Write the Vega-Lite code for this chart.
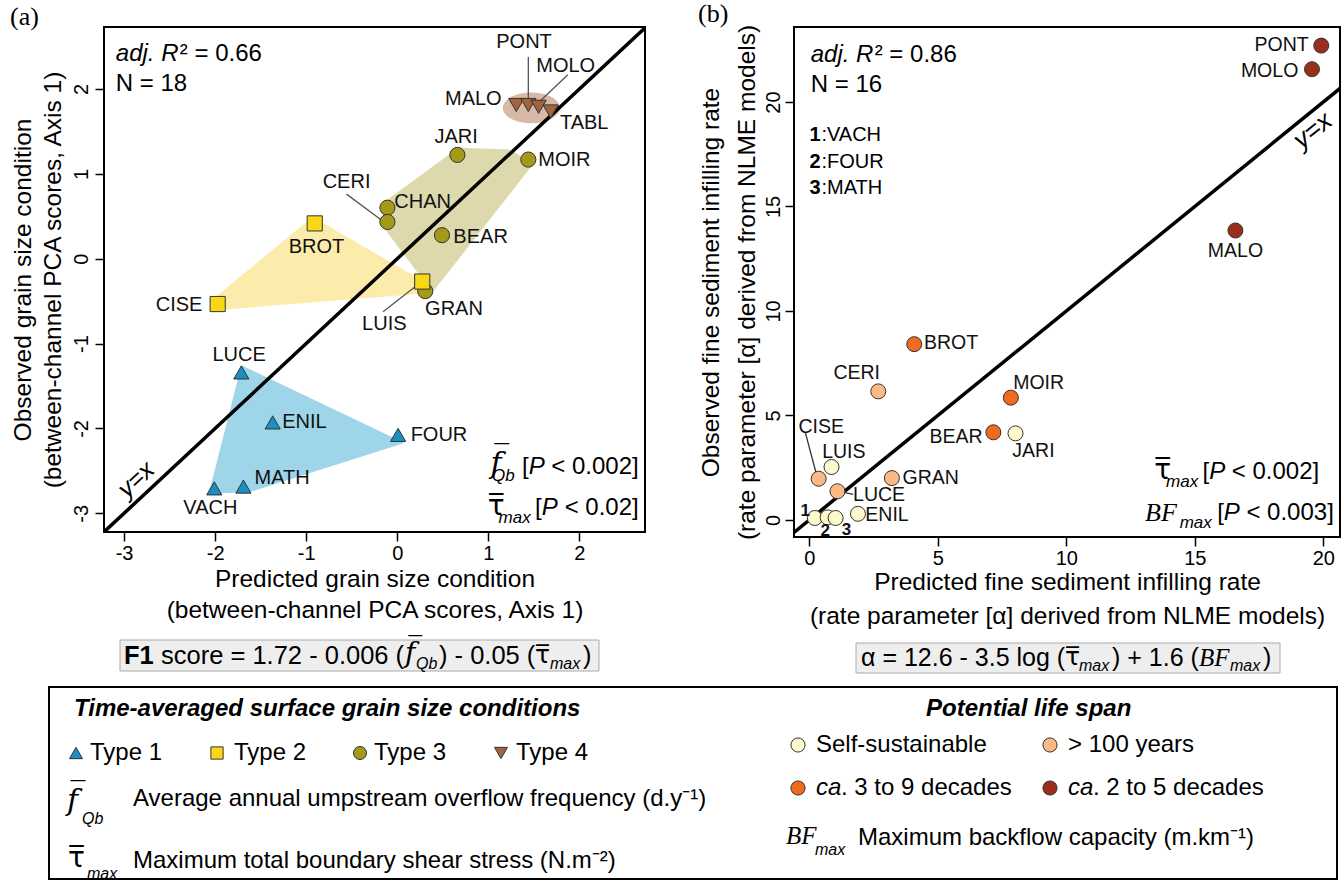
{
"$schema":"https://vega.github.io/schema/vega-lite/v6.json",
"background":"white",
"padding":{"left":9,"top":0,"right":0,"bottom":0},
"config":{
 "view":{"stroke":"black","strokeWidth":2},
 "axis":{"labelFont":"Liberation Sans","titleFont":"Liberation Sans","labelFontSize":20,"titleFontSize":24.5,"titleFontWeight":"normal","labelColor":"black","titleColor":"black","tickColor":"black","tickWidth":1.5,"tickSize":9,"domain":false,"grid":false,"labelFlush":false,"labelOverlap":false,"labelExpr":"replace(datum.label, '\u2212', '-')"},
 "text":{"font":"Liberation Sans","color":"black"}
},
"datasets":{
 "ptsA":[
  {"site":"LUCE","type":"Type 1","x":-1.712,"y":-1.34},
  {"site":"ENIL","type":"Type 1","x":-1.368,"y":-1.929},
  {"site":"FOUR","type":"Type 1","x":0.009,"y":-2.076},
  {"site":"VACH","type":"Type 1","x":-2.009,"y":-2.706},
  {"site":"MATH","type":"Type 1","x":-1.689,"y":-2.685},
  {"site":"BROT","type":"Type 2","x":-0.906,"y":0.416},
  {"site":"CISE","type":"Type 2","x":-1.972,"y":-0.534},
  {"site":"JARI","type":"Type 3","x":0.66,"y":1.223},
  {"site":"MOIR","type":"Type 3","x":1.439,"y":1.168},
  {"site":"CHAN","type":"Type 3","x":-0.108,"y":0.601},
  {"site":"CERI","type":"Type 3","x":-0.108,"y":0.433},
  {"site":"BEAR","type":"Type 3","x":0.491,"y":0.277},
  {"site":"GRAN","type":"Type 3","x":0.307,"y":-0.382},
  {"site":"LUIS","type":"Type 2","x":0.274,"y":-0.269},
  {"site":"MALO","type":"Type 4","x":1.307,"y":1.811},
  {"site":"PONT","type":"Type 4","x":1.439,"y":1.811},
  {"site":"MOLO","type":"Type 4","x":1.552,"y":1.79},
  {"site":"TABL","type":"Type 4","x":1.684,"y":1.735}
 ],
 "labA":[
  {"site":"LUCE","x":-1.736,"y":-1.13},
  {"site":"ENIL","x":-1.019,"y":-1.929},
  {"site":"FOUR","x":0.458,"y":-2.076},
  {"site":"VACH","x":-2.052,"y":-2.937},
  {"site":"MATH","x":-1.264,"y":-2.58},
  {"site":"BROT","x":-0.887,"y":0.143},
  {"site":"CISE","x":-2.396,"y":-0.542},
  {"site":"LUIS","x":-0.142,"y":-0.773},
  {"site":"JARI","x":0.646,"y":1.433},
  {"site":"MOIR","x":1.835,"y":1.16},
  {"site":"CHAN","x":0.278,"y":0.668},
  {"site":"CERI","x":-0.557,"y":0.908},
  {"site":"BEAR","x":0.915,"y":0.256},
  {"site":"GRAN","x":0.623,"y":-0.592},
  {"site":"MALO","x":0.835,"y":1.887},
  {"site":"PONT","x":1.392,"y":2.559},
  {"site":"MOLO","x":1.849,"y":2.273},
  {"site":"TABL","x":2.052,"y":1.601}
 ],
 "leadA":[
  {"site":"PONT","x":1.439,"y":2.378,"x2":1.439,"y2":1.861},
  {"site":"MOLO","x":1.873,"y":2.168,"x2":1.552,"y2":1.84},
  {"site":"CERI","x":-0.557,"y":0.761,"x2":-0.179,"y2":0.458},
  {"site":"LUIS","x":-0.156,"y":-0.626,"x2":0.245,"y2":-0.29}
 ],
 "hullA":[
  {"type":"Type 1","i":1,"x":-1.712,"y":-1.256},
  {"type":"Type 1","i":2,"x":0.08,"y":-2.17},
  {"type":"Type 1","i":3,"x":-1.62,"y":-2.75},
  {"type":"Type 1","i":4,"x":-2.07,"y":-2.77},
  {"type":"Type 2","i":1,"x":-0.93,"y":0.49},
  {"type":"Type 2","i":2,"x":0.33,"y":-0.29},
  {"type":"Type 2","i":3,"x":0.3,"y":-0.41},
  {"type":"Type 2","i":4,"x":-2.04,"y":-0.61},
  {"type":"Type 2","i":5,"x":-2.04,"y":-0.49},
  {"type":"Type 3","i":1,"x":-0.156,"y":0.655},
  {"type":"Type 3","i":2,"x":0.67,"y":1.307},
  {"type":"Type 3","i":3,"x":1.236,"y":1.286},
  {"type":"Type 3","i":4,"x":1.495,"y":1.118},
  {"type":"Type 3","i":5,"x":0.387,"y":-0.395},
  {"type":"Type 3","i":6,"x":-0.132,"y":0.34}
 ],
 "ellA":[{"x":1.472,"y":1.777}],
 "yxA":[{"x":-3.22,"y":-3.22},{"x":2.73,"y":2.73}],
 "ptsB":[
  {"site":"PONT","span":"ca. 2 to 5 decades","x":19.92,"y":22.7},
  {"site":"MOLO","span":"ca. 2 to 5 decades","x":19.56,"y":21.57},
  {"site":"MALO","span":"ca. 2 to 5 decades","x":16.58,"y":13.85},
  {"site":"BROT","span":"ca. 3 to 9 decades","x":4.08,"y":8.41},
  {"site":"MOIR","span":"ca. 3 to 9 decades","x":7.84,"y":5.85},
  {"site":"BEAR","span":"ca. 3 to 9 decades","x":7.16,"y":4.19},
  {"site":"CERI","span":"> 100 years","x":2.68,"y":6.15},
  {"site":"CISE","span":"> 100 years","x":0.36,"y":1.97},
  {"site":"GRAN","span":"> 100 years","x":3.21,"y":2.0},
  {"site":"LUCE","span":"> 100 years","x":1.09,"y":1.37},
  {"site":"JARI","span":"Self-sustainable","x":8.02,"y":4.14},
  {"site":"LUIS","span":"Self-sustainable","x":0.86,"y":2.53},
  {"site":"ENIL","span":"Self-sustainable","x":1.89,"y":0.29},
  {"site":"VACH","span":"Self-sustainable","x":0.21,"y":0.09},
  {"site":"FOUR","span":"Self-sustainable","x":0.71,"y":0.12},
  {"site":"MATH","span":"Self-sustainable","x":1.02,"y":0.09}
 ],
 "labB":[
  {"lab":"PONT","x":18.38,"y":22.75},
  {"lab":"MOLO","x":17.91,"y":21.48},
  {"lab":"MALO","x":16.58,"y":12.85},
  {"lab":"BROT","x":5.51,"y":8.46},
  {"lab":"MOIR","x":8.92,"y":6.53},
  {"lab":"BEAR","x":5.71,"y":3.97},
  {"lab":"CERI","x":1.84,"y":7.04},
  {"lab":"CISE","x":0.46,"y":4.44},
  {"lab":"GRAN","x":4.72,"y":2.0},
  {"lab":"LUCE","x":2.71,"y":1.17},
  {"lab":"JARI","x":8.72,"y":3.28},
  {"lab":"LUIS","x":1.34,"y":3.27},
  {"lab":"ENIL","x":3.02,"y":0.21},
  {"lab":"1","x":-0.16,"y":0.42},
  {"lab":"2","x":0.62,"y":-0.55},
  {"lab":"3","x":1.44,"y":-0.48}
 ],
 "leadB":[
  {"site":"CISE","x":-0.16,"y":4.19,"x2":0.3,"y2":2.05},
  {"site":"LUCE","x":1.7,"y":1.22,"x2":1.15,"y2":1.36}
 ],
 "yxB":[{"x":-0.6,"y":-0.6},{"x":20.65,"y":20.65}]
},
"spacing":4,
"vconcat":[
 {"hconcat":[
  {
   "width":541,"height":505,
   "title":{"text":"(a)","anchor":"start","frame":"bounds","font":"Liberation Serif","fontSize":26,"fontWeight":"normal","offset":-3,"color":"black"},
   "layer":[
    {"data":{"name":"hullA"},"transform":[{"filter":"datum.type == 'Type 2'"}],"mark":{"type":"line","interpolate":"linear-closed","fill":"#fbe99c","fillOpacity":0.85,"strokeWidth":0},
     "encoding":{
      "x":{"field":"x","type":"quantitative","scale":{"domain":[-3.22,2.72],"nice":false,"zero":false},"axis":{"values":[-3,-2,-1,0,1,2],"format":"d","title":["Predicted grain size condition","(between-channel PCA scores, Axis 1)"],"titleLineHeight":31,"titlePadding":4,"labelPadding":2}},
      "y":{"field":"y","type":"quantitative","scale":{"domain":[-3.22,2.73],"nice":false,"zero":false},"axis":{"values":[-3,-2,-1,0,1,2],"format":"d","labelAngle":-90,"labelAlign":"center","labelBaseline":"bottom","labelPadding":4,"title":["Observed grain size condition","(between-channel PCA scores, Axis 1)"],"titleLineHeight":30,"titlePadding":6}},
      "order":{"field":"i","type":"quantitative"}}},
    {"data":{"name":"hullA"},"transform":[{"filter":"datum.type == 'Type 3'"}],"mark":{"type":"line","interpolate":"linear-closed","fill":"#d8d29e","fillOpacity":0.85,"strokeWidth":0},"encoding":{"x":{"field":"x","type":"quantitative"},"y":{"field":"y","type":"quantitative"},"order":{"field":"i","type":"quantitative"}}},
    {"data":{"name":"hullA"},"transform":[{"filter":"datum.type == 'Type 1'"}],"mark":{"type":"line","interpolate":"linear-closed","fill":"#9fd5e8","fillOpacity":1,"strokeWidth":0},"encoding":{"x":{"field":"x","type":"quantitative"},"y":{"field":"y","type":"quantitative"},"order":{"field":"i","type":"quantitative"}}},
    {"data":{"name":"ellA"},"mark":{"type":"point","shape":"M-1,0A1,0.54,0,1,0,1,0A1,0.54,0,1,0,-1,0Z","filled":true,"fill":"#d8b8a6","opacity":1,"strokeWidth":0,"size":3250},"encoding":{"x":{"field":"x","type":"quantitative"},"y":{"field":"y","type":"quantitative"}}},
    {"data":{"name":"yxA"},"mark":{"type":"line","color":"black","strokeWidth":3.5,"clip":true},"encoding":{"x":{"field":"x","type":"quantitative"},"y":{"field":"y","type":"quantitative"}}},
    {"data":{"name":"leadA"},"mark":{"type":"rule","color":"#555555","strokeWidth":1.3},"encoding":{"x":{"field":"x","type":"quantitative"},"y":{"field":"y","type":"quantitative"},"x2":{"field":"x2"},"y2":{"field":"y2"}}},
    {"data":{"name":"ptsA"},"mark":{"type":"point","filled":true,"size":230,"stroke":"#333333","strokeWidth":1,"opacity":1},
     "encoding":{
      "x":{"field":"x","type":"quantitative"},"y":{"field":"y","type":"quantitative"},
      "shape":{"field":"type","type":"nominal","scale":{"domain":["Type 1","Type 2","Type 3","Type 4"],"range":["triangle-up","square","circle","triangle-down"]},"legend":null},
      "color":{"field":"type","type":"nominal","scale":{"domain":["Type 1","Type 2","Type 3","Type 4"],"range":["#1b8fc4","#f9d616","#a39a1a","#a3643d"]},"legend":null}}},
    {"data":{"name":"labA"},"mark":{"type":"text","fontSize":20,"align":"center","baseline":"middle","color":"#111111"},"encoding":{"x":{"field":"x","type":"quantitative"},"y":{"field":"y","type":"quantitative"},"text":{"field":"site"}}},
    {"data":{"values":[{}]},"mark":{"type":"text","fontSize":24,"fontStyle":"italic","align":"left","baseline":"middle"},"encoding":{"x":{"datum":-3.09,"type":"quantitative"},"y":{"datum":2.408,"type":"quantitative"},"text":{"value":"adj. R"}}},
    {"data":{"values":[{}]},"mark":{"type":"text","fontSize":24,"align":"left","baseline":"middle","dx":64},"encoding":{"x":{"datum":-3.09,"type":"quantitative"},"y":{"datum":2.408,"type":"quantitative"},"text":{"value":"\u00b2 = 0.66"}}},
    {"data":{"values":[{}]},"mark":{"type":"text","fontSize":24,"align":"left","baseline":"middle"},"encoding":{"x":{"datum":-3.09,"type":"quantitative"},"y":{"datum":2.055,"type":"quantitative"},"text":{"value":"N = 18"}}},
    {"data":{"values":[{}]},"mark":{"type":"text","fontSize":25,"fontStyle":"italic","align":"center","baseline":"middle","angle":-43},"encoding":{"x":{"datum":-2.868,"type":"quantitative"},"y":{"datum":-2.601,"type":"quantitative"},"text":{"value":"y=x"}}},
    {"data":{"values":[{}]},"mark":{"type":"text","fontSize":24,"align":"right","baseline":"middle"},"encoding":{"x":{"datum":2.651,"type":"quantitative"},"y":{"datum":-2.454,"type":"quantitative"},"text":{"value":"< 0.002]"}}},
    {"data":{"values":[{}]},"mark":{"type":"text","fontSize":24,"fontStyle":"italic","align":"right","baseline":"middle","dx":-94},"encoding":{"x":{"datum":2.651,"type":"quantitative"},"y":{"datum":-2.454,"type":"quantitative"},"text":{"value":"P"}}},
    {"data":{"values":[{}]},"mark":{"type":"text","fontSize":24,"align":"right","baseline":"middle","dx":-110},"encoding":{"x":{"datum":2.651,"type":"quantitative"},"y":{"datum":-2.454,"type":"quantitative"},"text":{"value":"["}}},
    {"data":{"values":[{}]},"mark":{"type":"text","fontSize":17,"fontStyle":"italic","align":"right","baseline":"middle","dx":-124,"dy":9},"encoding":{"x":{"datum":2.651,"type":"quantitative"},"y":{"datum":-2.454,"type":"quantitative"},"text":{"value":"Qb"}}},
    {"data":{"values":[{}]},"mark":{"type":"text","font":"DejaVu Serif","fontSize":30,"fontStyle":"italic","align":"right","baseline":"middle","dx":-137,"dy":-3},"encoding":{"x":{"datum":2.651,"type":"quantitative"},"y":{"datum":-2.454,"type":"quantitative"},"text":{"value":"f\u0305"}}},
    {"data":{"values":[{}]},"mark":{"type":"text","fontSize":24,"align":"right","baseline":"middle"},"encoding":{"x":{"datum":2.651,"type":"quantitative"},"y":{"datum":-2.937,"type":"quantitative"},"text":{"value":"< 0.02]"}}},
    {"data":{"values":[{}]},"mark":{"type":"text","fontSize":24,"fontStyle":"italic","align":"right","baseline":"middle","dx":-81},"encoding":{"x":{"datum":2.651,"type":"quantitative"},"y":{"datum":-2.937,"type":"quantitative"},"text":{"value":"P"}}},
    {"data":{"values":[{}]},"mark":{"type":"text","fontSize":24,"align":"right","baseline":"middle","dx":-97},"encoding":{"x":{"datum":2.651,"type":"quantitative"},"y":{"datum":-2.937,"type":"quantitative"},"text":{"value":"["}}},
    {"data":{"values":[{}]},"mark":{"type":"text","fontSize":17,"fontStyle":"italic","align":"right","baseline":"middle","dx":-108,"dy":10},"encoding":{"x":{"datum":2.651,"type":"quantitative"},"y":{"datum":-2.937,"type":"quantitative"},"text":{"value":"max"}}},
    {"data":{"values":[{}]},"mark":{"type":"text","font":"DejaVu Sans","fontSize":28,"align":"right","baseline":"middle","dx":-134,"dy":-1},"encoding":{"x":{"datum":2.651,"type":"quantitative"},"y":{"datum":-2.937,"type":"quantitative"},"text":{"value":"\u03c4\u0305"}}}
   ]
  },
  {
   "width":546,"height":510,
   "title":{"text":"(b)","anchor":"start","frame":"bounds","font":"Liberation Serif","fontSize":26,"fontWeight":"normal","offset":-3,"color":"black"},
   "layer":[
    {"data":{"name":"yxB"},"mark":{"type":"line","color":"black","strokeWidth":3.5,"clip":true},
     "encoding":{
      "x":{"field":"x","type":"quantitative","scale":{"domain":[-0.6,20.65],"nice":false,"zero":false},"axis":{"values":[0,5,10,15,20],"format":"d","title":["Predicted fine sediment infilling rate","(rate parameter [\u03b1] derived from NLME models)"],"titleLineHeight":34,"titlePadding":2,"labelPadding":2}},
      "y":{"field":"y","type":"quantitative","scale":{"domain":[-0.82,23.59],"nice":false,"zero":false},"axis":{"values":[0,5,10,15,20],"format":"d","labelAngle":-90,"labelAlign":"center","labelBaseline":"bottom","labelPadding":2,"title":["Observed fine sediment infilling rate","(rate parameter [\u03b1] derived from NLME models)"],"titleLineHeight":36,"titlePadding":4}}}},
    {"data":{"name":"leadB"},"mark":{"type":"rule","color":"#333333","strokeWidth":1.3},"encoding":{"x":{"field":"x","type":"quantitative"},"y":{"field":"y","type":"quantitative"},"x2":{"field":"x2"},"y2":{"field":"y2"}}},
    {"data":{"name":"ptsB"},"mark":{"type":"point","filled":true,"size":225,"stroke":"#333333","strokeWidth":1,"opacity":1},
     "encoding":{"x":{"field":"x","type":"quantitative"},"y":{"field":"y","type":"quantitative"},"color":{"field":"span","type":"nominal","scale":{"domain":["Self-sustainable","> 100 years","ca. 3 to 9 decades","ca. 2 to 5 decades"],"range":["#fcf9cc","#fbba85","#ee6b20","#9a2e1c"]},"legend":null}}},
    {"data":{"name":"labB"},"transform":[{"filter":"length(datum.lab) > 1"}],"mark":{"type":"text","fontSize":19.5,"align":"center","baseline":"middle","color":"#111111"},"encoding":{"x":{"field":"x","type":"quantitative"},"y":{"field":"y","type":"quantitative"},"text":{"field":"lab"}}},
    {"data":{"name":"labB"},"transform":[{"filter":"length(datum.lab) == 1"}],"mark":{"type":"text","fontSize":17,"fontWeight":"bold","align":"center","baseline":"middle","color":"#111111"},"encoding":{"x":{"field":"x","type":"quantitative"},"y":{"field":"y","type":"quantitative"},"text":{"field":"lab"}}},
    {"data":{"values":[{}]},"mark":{"type":"text","fontSize":24,"fontStyle":"italic","align":"left","baseline":"middle"},"encoding":{"x":{"datum":0.05,"type":"quantitative"},"y":{"datum":22.26,"type":"quantitative"},"text":{"value":"adj. R"}}},
    {"data":{"values":[{}]},"mark":{"type":"text","fontSize":24,"align":"left","baseline":"middle","dx":64},"encoding":{"x":{"datum":0.05,"type":"quantitative"},"y":{"datum":22.26,"type":"quantitative"},"text":{"value":"\u00b2 = 0.86"}}},
    {"data":{"values":[{}]},"mark":{"type":"text","fontSize":24,"align":"left","baseline":"middle"},"encoding":{"x":{"datum":0.05,"type":"quantitative"},"y":{"datum":20.82,"type":"quantitative"},"text":{"value":"N = 16"}}},
    {"data":{"values":[{}]},"mark":{"type":"text","fontSize":20,"fontWeight":"bold","align":"left","baseline":"middle"},"encoding":{"x":{"datum":0.0,"type":"quantitative"},"y":{"datum":18.43,"type":"quantitative"},"text":{"value":"1"}}},
    {"data":{"values":[{}]},"mark":{"type":"text","fontSize":20,"align":"left","baseline":"middle","dx":12},"encoding":{"x":{"datum":0.0,"type":"quantitative"},"y":{"datum":18.43,"type":"quantitative"},"text":{"value":":VACH"}}},
    {"data":{"values":[{}]},"mark":{"type":"text","fontSize":20,"fontWeight":"bold","align":"left","baseline":"middle"},"encoding":{"x":{"datum":0.0,"type":"quantitative"},"y":{"datum":17.15,"type":"quantitative"},"text":{"value":"2"}}},
    {"data":{"values":[{}]},"mark":{"type":"text","fontSize":20,"align":"left","baseline":"middle","dx":12},"encoding":{"x":{"datum":0.0,"type":"quantitative"},"y":{"datum":17.15,"type":"quantitative"},"text":{"value":":FOUR"}}},
    {"data":{"values":[{}]},"mark":{"type":"text","fontSize":20,"fontWeight":"bold","align":"left","baseline":"middle"},"encoding":{"x":{"datum":0.0,"type":"quantitative"},"y":{"datum":15.9,"type":"quantitative"},"text":{"value":"3"}}},
    {"data":{"values":[{}]},"mark":{"type":"text","fontSize":20,"align":"left","baseline":"middle","dx":12},"encoding":{"x":{"datum":0.0,"type":"quantitative"},"y":{"datum":15.9,"type":"quantitative"},"text":{"value":":MATH"}}},
    {"data":{"values":[{}]},"mark":{"type":"text","fontSize":26,"fontStyle":"italic","align":"center","baseline":"middle","angle":-39},"encoding":{"x":{"datum":19.59,"type":"quantitative"},"y":{"datum":18.63,"type":"quantitative"},"text":{"value":"y=x"}}},
    {"data":{"values":[{}]},"mark":{"type":"text","fontSize":24,"align":"right","baseline":"middle"},"encoding":{"x":{"datum":19.84,"type":"quantitative"},"y":{"datum":2.31,"type":"quantitative"},"text":{"value":"< 0.002]"}}},
    {"data":{"values":[{}]},"mark":{"type":"text","fontSize":24,"fontStyle":"italic","align":"right","baseline":"middle","dx":-94},"encoding":{"x":{"datum":19.84,"type":"quantitative"},"y":{"datum":2.31,"type":"quantitative"},"text":{"value":"P"}}},
    {"data":{"values":[{}]},"mark":{"type":"text","fontSize":24,"align":"right","baseline":"middle","dx":-110},"encoding":{"x":{"datum":19.84,"type":"quantitative"},"y":{"datum":2.31,"type":"quantitative"},"text":{"value":"["}}},
    {"data":{"values":[{}]},"mark":{"type":"text","fontSize":17,"fontStyle":"italic","align":"right","baseline":"middle","dx":-121,"dy":10},"encoding":{"x":{"datum":19.84,"type":"quantitative"},"y":{"datum":2.31,"type":"quantitative"},"text":{"value":"max"}}},
    {"data":{"values":[{}]},"mark":{"type":"text","font":"DejaVu Sans","fontSize":28,"align":"right","baseline":"middle","dx":-148,"dy":-1},"encoding":{"x":{"datum":19.84,"type":"quantitative"},"y":{"datum":2.31,"type":"quantitative"},"text":{"value":"\u03c4\u0305"}}},
    {"data":{"values":[{}]},"mark":{"type":"text","fontSize":24,"align":"right","baseline":"middle"},"encoding":{"x":{"datum":20.41,"type":"quantitative"},"y":{"datum":0.34,"type":"quantitative"},"text":{"value":"< 0.003]"}}},
    {"data":{"values":[{}]},"mark":{"type":"text","fontSize":24,"fontStyle":"italic","align":"right","baseline":"middle","dx":-94},"encoding":{"x":{"datum":20.41,"type":"quantitative"},"y":{"datum":0.34,"type":"quantitative"},"text":{"value":"P"}}},
    {"data":{"values":[{}]},"mark":{"type":"text","fontSize":24,"align":"right","baseline":"middle","dx":-110},"encoding":{"x":{"datum":20.41,"type":"quantitative"},"y":{"datum":0.34,"type":"quantitative"},"text":{"value":"["}}},
    {"data":{"values":[{}]},"mark":{"type":"text","fontSize":17,"fontStyle":"italic","align":"right","baseline":"middle","dx":-122,"dy":10},"encoding":{"x":{"datum":20.41,"type":"quantitative"},"y":{"datum":0.34,"type":"quantitative"},"text":{"value":"max"}}},
    {"data":{"values":[{}]},"mark":{"type":"text","font":"Liberation Serif","fontSize":26,"fontStyle":"italic","align":"right","baseline":"middle","dx":-157},"encoding":{"x":{"datum":20.41,"type":"quantitative"},"y":{"datum":0.34,"type":"quantitative"},"text":{"value":"BF"}}}
   ]
  }
 ],"spacing":50,"resolve":{"scale":{"color":"independent","shape":"independent"}}},
 {
  "width":1240,"height":248,
  "view":{"stroke":null},
  "data":{"values":[{}]},
  "layer":[
   {"mark":{"type":"rect","fill":"white","stroke":"black","strokeWidth":2},"encoding":{"x":{"datum":48,"type":"quantitative","scale":{"domain":[103,1343],"nice":false,"zero":false},"axis":null},"x2":{"datum":1336},"y":{"datum":689,"type":"quantitative","scale":{"domain":[635,883],"reverse":true,"nice":false,"zero":false},"axis":null},"y2":{"datum":881}}},
   {"mark":{"type":"rect","fill":"#eeeeee","stroke":"#aaaaaa","strokeWidth":1},"encoding":{"x":{"datum":119,"type":"quantitative","axis":null},"x2":{"datum":598},"y":{"datum":642,"type":"quantitative","axis":null},"y2":{"datum":673}}},
   {"mark":{"type":"rect","fill":"#eeeeee","stroke":"#aaaaaa","strokeWidth":1},"encoding":{"x":{"datum":855,"type":"quantitative","axis":null},"x2":{"datum":1279},"y":{"datum":645,"type":"quantitative","axis":null},"y2":{"datum":675}}},
   {"mark":{"type":"text","fontSize":25.5,"fontWeight":"bold","align":"left","baseline":"middle"},"encoding":{"x":{"datum":123,"type":"quantitative","axis":null},"y":{"datum":658,"type":"quantitative","axis":null},"text":{"value":"F1"}}},
   {"mark":{"type":"text","fontSize":25.5,"align":"left","baseline":"middle"},"encoding":{"x":{"datum":160,"type":"quantitative","axis":null},"y":{"datum":658,"type":"quantitative","axis":null},"text":{"value":"score = 1.72 - 0.006 ("}}},
   {"mark":{"type":"text","font":"DejaVu Serif","fontSize":28,"fontStyle":"italic","align":"left","baseline":"middle"},"encoding":{"x":{"datum":404,"type":"quantitative","axis":null},"y":{"datum":656,"type":"quantitative","axis":null},"text":{"value":"f\u0305"}}},
   {"mark":{"type":"text","fontSize":16,"fontStyle":"italic","align":"left","baseline":"middle"},"encoding":{"x":{"datum":415,"type":"quantitative","axis":null},"y":{"datum":666,"type":"quantitative","axis":null},"text":{"value":"Qb"}}},
   {"mark":{"type":"text","fontSize":25.5,"align":"left","baseline":"middle"},"encoding":{"x":{"datum":438,"type":"quantitative","axis":null},"y":{"datum":658,"type":"quantitative","axis":null},"text":{"value":") - 0.05 ("}}},
   {"mark":{"type":"text","font":"DejaVu Sans","fontSize":25,"align":"left","baseline":"middle"},"encoding":{"x":{"datum":534,"type":"quantitative","axis":null},"y":{"datum":657,"type":"quantitative","axis":null},"text":{"value":"\u03c4\u0305"}}},
   {"mark":{"type":"text","fontSize":16,"fontStyle":"italic","align":"left","baseline":"middle"},"encoding":{"x":{"datum":549,"type":"quantitative","axis":null},"y":{"datum":666,"type":"quantitative","axis":null},"text":{"value":"max"}}},
   {"mark":{"type":"text","fontSize":25.5,"align":"left","baseline":"middle"},"encoding":{"x":{"datum":582,"type":"quantitative","axis":null},"y":{"datum":658,"type":"quantitative","axis":null},"text":{"value":")"}}},
   {"mark":{"type":"text","fontSize":25,"align":"left","baseline":"middle"},"encoding":{"x":{"datum":860,"type":"quantitative","axis":null},"y":{"datum":660,"type":"quantitative","axis":null},"text":{"value":"\u03b1 = 12.6 - 3.5 log ("}}},
   {"mark":{"type":"text","font":"DejaVu Sans","fontSize":25,"align":"left","baseline":"middle"},"encoding":{"x":{"datum":1064,"type":"quantitative","axis":null},"y":{"datum":659,"type":"quantitative","axis":null},"text":{"value":"\u03c4\u0305"}}},
   {"mark":{"type":"text","fontSize":16,"fontStyle":"italic","align":"left","baseline":"middle"},"encoding":{"x":{"datum":1078,"type":"quantitative","axis":null},"y":{"datum":668,"type":"quantitative","axis":null},"text":{"value":"max"}}},
   {"mark":{"type":"text","fontSize":25,"align":"left","baseline":"middle"},"encoding":{"x":{"datum":1111,"type":"quantitative","axis":null},"y":{"datum":660,"type":"quantitative","axis":null},"text":{"value":") + 1.6 ("}}},
   {"mark":{"type":"text","font":"Liberation Serif","fontSize":25,"fontStyle":"italic","align":"left","baseline":"middle"},"encoding":{"x":{"datum":1198,"type":"quantitative","axis":null},"y":{"datum":660,"type":"quantitative","axis":null},"text":{"value":"BF"}}},
   {"mark":{"type":"text","fontSize":16,"fontStyle":"italic","align":"left","baseline":"middle"},"encoding":{"x":{"datum":1229,"type":"quantitative","axis":null},"y":{"datum":668,"type":"quantitative","axis":null},"text":{"value":"max"}}},
   {"mark":{"type":"text","fontSize":25,"align":"left","baseline":"middle"},"encoding":{"x":{"datum":1262,"type":"quantitative","axis":null},"y":{"datum":660,"type":"quantitative","axis":null},"text":{"value":")"}}},
   {"mark":{"type":"text","fontSize":24,"fontWeight":"bold","fontStyle":"italic","align":"left","baseline":"middle"},"encoding":{"x":{"datum":73,"type":"quantitative","axis":null},"y":{"datum":711,"type":"quantitative","axis":null},"text":{"value":"Time-averaged surface grain size conditions"}}},
   {"mark":{"type":"point","shape":"triangle-up","filled":true,"fill":"#1b8fc4","stroke":"#333333","strokeWidth":1,"size":170,"opacity":1},"encoding":{"x":{"datum":75,"type":"quantitative","axis":null},"y":{"datum":755,"type":"quantitative","axis":null}}},
   {"mark":{"type":"point","shape":"square","filled":true,"fill":"#f9d616","stroke":"#333333","strokeWidth":1,"size":150,"opacity":1},"encoding":{"x":{"datum":216,"type":"quantitative","axis":null},"y":{"datum":755,"type":"quantitative","axis":null}}},
   {"mark":{"type":"point","shape":"circle","filled":true,"fill":"#a39a1a","stroke":"#333333","strokeWidth":1,"size":170,"opacity":1},"encoding":{"x":{"datum":359,"type":"quantitative","axis":null},"y":{"datum":755,"type":"quantitative","axis":null}}},
   {"mark":{"type":"point","shape":"triangle-down","filled":true,"fill":"#a3643d","stroke":"#333333","strokeWidth":1,"size":170,"opacity":1},"encoding":{"x":{"datum":500,"type":"quantitative","axis":null},"y":{"datum":755,"type":"quantitative","axis":null}}},
   {"mark":{"type":"text","fontSize":24,"align":"left","baseline":"middle"},"encoding":{"x":{"datum":89,"type":"quantitative","axis":null},"y":{"datum":755,"type":"quantitative","axis":null},"text":{"value":"Type 1"}}},
   {"mark":{"type":"text","fontSize":24,"align":"left","baseline":"middle"},"encoding":{"x":{"datum":233,"type":"quantitative","axis":null},"y":{"datum":755,"type":"quantitative","axis":null},"text":{"value":"Type 2"}}},
   {"mark":{"type":"text","fontSize":24,"align":"left","baseline":"middle"},"encoding":{"x":{"datum":373,"type":"quantitative","axis":null},"y":{"datum":755,"type":"quantitative","axis":null},"text":{"value":"Type 3"}}},
   {"mark":{"type":"text","fontSize":24,"align":"left","baseline":"middle"},"encoding":{"x":{"datum":515,"type":"quantitative","axis":null},"y":{"datum":755,"type":"quantitative","axis":null},"text":{"value":"Type 4"}}},
   {"mark":{"type":"text","font":"DejaVu Serif","fontSize":30,"fontStyle":"italic","align":"left","baseline":"middle"},"encoding":{"x":{"datum":66,"type":"quantitative","axis":null},"y":{"datum":803,"type":"quantitative","axis":null},"text":{"value":"f\u0305"}}},
   {"mark":{"type":"text","fontSize":16,"fontStyle":"italic","align":"left","baseline":"middle"},"encoding":{"x":{"datum":81,"type":"quantitative","axis":null},"y":{"datum":821,"type":"quantitative","axis":null},"text":{"value":"Qb"}}},
   {"mark":{"type":"text","fontSize":24,"align":"left","baseline":"middle"},"encoding":{"x":{"datum":132,"type":"quantitative","axis":null},"y":{"datum":801,"type":"quantitative","axis":null},"text":{"value":"Average annual umpstream overflow frequency (d.y\u207b\u00b9)"}}},
   {"mark":{"type":"text","font":"DejaVu Sans","fontSize":28,"align":"left","baseline":"middle"},"encoding":{"x":{"datum":67,"type":"quantitative","axis":null},"y":{"datum":861,"type":"quantitative","axis":null},"text":{"value":"\u03c4\u0305"}}},
   {"mark":{"type":"text","fontSize":16,"fontStyle":"italic","align":"left","baseline":"middle"},"encoding":{"x":{"datum":86,"type":"quantitative","axis":null},"y":{"datum":876,"type":"quantitative","axis":null},"text":{"value":"max"}}},
   {"mark":{"type":"text","fontSize":24,"align":"left","baseline":"middle"},"encoding":{"x":{"datum":132,"type":"quantitative","axis":null},"y":{"datum":863,"type":"quantitative","axis":null},"text":{"value":"Maximum total boundary shear stress (N.m\u207b\u00b2)"}}},
   {"mark":{"type":"text","fontSize":24,"fontWeight":"bold","fontStyle":"italic","align":"left","baseline":"middle"},"encoding":{"x":{"datum":925,"type":"quantitative","axis":null},"y":{"datum":711,"type":"quantitative","axis":null},"text":{"value":"Potential life span"}}},
   {"mark":{"type":"point","shape":"circle","filled":true,"fill":"#fcf9cc","stroke":"#333333","strokeWidth":1,"size":200,"opacity":1},"encoding":{"x":{"datum":797,"type":"quantitative","axis":null},"y":{"datum":747,"type":"quantitative","axis":null}}},
   {"mark":{"type":"point","shape":"circle","filled":true,"fill":"#fbba85","stroke":"#333333","strokeWidth":1,"size":200,"opacity":1},"encoding":{"x":{"datum":1049,"type":"quantitative","axis":null},"y":{"datum":747,"type":"quantitative","axis":null}}},
   {"mark":{"type":"point","shape":"circle","filled":true,"fill":"#ee6b20","stroke":"#333333","strokeWidth":1,"size":200,"opacity":1},"encoding":{"x":{"datum":797,"type":"quantitative","axis":null},"y":{"datum":790,"type":"quantitative","axis":null}}},
   {"mark":{"type":"point","shape":"circle","filled":true,"fill":"#9a2e1c","stroke":"#333333","strokeWidth":1,"size":200,"opacity":1},"encoding":{"x":{"datum":1049,"type":"quantitative","axis":null},"y":{"datum":790,"type":"quantitative","axis":null}}},
   {"mark":{"type":"text","fontSize":24,"align":"left","baseline":"middle"},"encoding":{"x":{"datum":815,"type":"quantitative","axis":null},"y":{"datum":747,"type":"quantitative","axis":null},"text":{"value":"Self-sustainable"}}},
   {"mark":{"type":"text","fontSize":24,"align":"left","baseline":"middle"},"encoding":{"x":{"datum":1067,"type":"quantitative","axis":null},"y":{"datum":747,"type":"quantitative","axis":null},"text":{"value":"> 100 years"}}},
   {"mark":{"type":"text","fontSize":24,"fontStyle":"italic","align":"left","baseline":"middle"},"encoding":{"x":{"datum":815,"type":"quantitative","axis":null},"y":{"datum":790,"type":"quantitative","axis":null},"text":{"value":"ca"}}},
   {"mark":{"type":"text","fontSize":24,"align":"left","baseline":"middle"},"encoding":{"x":{"datum":840,"type":"quantitative","axis":null},"y":{"datum":790,"type":"quantitative","axis":null},"text":{"value":". 3 to 9 decades"}}},
   {"mark":{"type":"text","fontSize":24,"fontStyle":"italic","align":"left","baseline":"middle"},"encoding":{"x":{"datum":1067,"type":"quantitative","axis":null},"y":{"datum":790,"type":"quantitative","axis":null},"text":{"value":"ca"}}},
   {"mark":{"type":"text","fontSize":24,"align":"left","baseline":"middle"},"encoding":{"x":{"datum":1092,"type":"quantitative","axis":null},"y":{"datum":790,"type":"quantitative","axis":null},"text":{"value":". 2 to 5 decades"}}},
   {"mark":{"type":"text","font":"Liberation Serif","fontSize":25,"fontStyle":"italic","align":"left","baseline":"middle"},"encoding":{"x":{"datum":785,"type":"quantitative","axis":null},"y":{"datum":838,"type":"quantitative","axis":null},"text":{"value":"BF"}}},
   {"mark":{"type":"text","fontSize":16,"fontStyle":"italic","align":"left","baseline":"middle"},"encoding":{"x":{"datum":814,"type":"quantitative","axis":null},"y":{"datum":852,"type":"quantitative","axis":null},"text":{"value":"max"}}},
   {"mark":{"type":"text","fontSize":24,"align":"left","baseline":"middle"},"encoding":{"x":{"datum":857,"type":"quantitative","axis":null},"y":{"datum":840,"type":"quantitative","axis":null},"text":{"value":"Maximum backflow capacity (m.km\u207b\u00b9)"}}}
  ]
 }
]
}
